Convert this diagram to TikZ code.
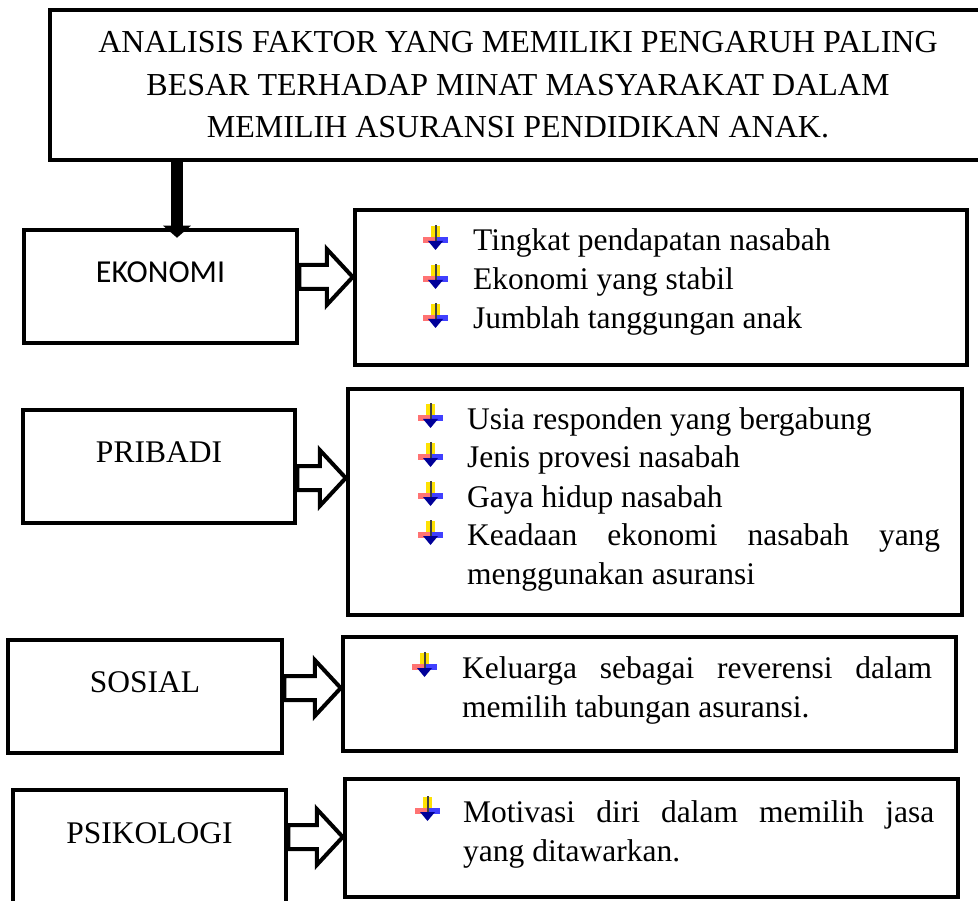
\documentclass[tikz,border=0pt]{standalone}
\usepackage{fontspec}
\setmainfont{Liberation Serif}
\newfontfamily\calibri{Carlito}
\usetikzlibrary{arrows.meta,calc}

\tikzset{
  kotak/.style={draw, line width=4.5pt, inner sep=0pt, minimum width=273pt,
    minimum height=113pt, font=\fontsize{31.5}{38}\selectfont},
  daftar/.style={draw, line width=4.5pt, inner sep=0pt},
  isi/.style={anchor=base west, inner sep=0pt, align=justify,
    font=\fontsize{31.5}{39}\selectfont},
  blok/.style={draw=black, fill=white, line width=4pt, line join=miter,
    to path={let \p1=(\tikztostart), \p2=(\tikztotarget) in
      (\x1,\y2+12pt) -- (\x2-26pt,\y2+12pt) -- (\x2-26pt,\y2+28pt) -- (\x2,\y2)
      -- (\x2-26pt,\y2-28pt) -- (\x2-26pt,\y2-12pt) -- (\x1,\y2-12pt) -- cycle}},
  butir/.pic={
    \fill[yellow!85!orange] (8,-25) rectangle (17,-10);
    \fill[red!55] (0,-14) rectangle (12,-8);
    \fill[blue!75] (12,-14) rectangle (25,-8);
    \fill[black!75] (11.5,-26) rectangle (13.5,-8);
    \fill[blue!60!black] (5,-10) -- (20,-10) -- (12.5,-1) -- cycle;
  }
}
\newcommand{\naik}[1]{\raisebox{14.5pt}[\height][\depth]{#1}}

\begin{document}
\begin{tikzpicture}[x=1pt,y=-1pt]
    \useasboundingbox (0,0) rectangle (978,901);

    % judul
    \node[draw, line width=4.5pt, minimum width=936pt, minimum height=150pt, align=center,
      font=\fontsize{32}{42.5}\selectfont] (judul) at (518,85)
      {ANALISIS FAKTOR YANG MEMILIKI PENGARUH PALING\\
       BESAR TERHADAP MINAT MASYARAKAT DALAM\\
       MEMILIH ASURANSI PENDIDIKAN ANAK.};

    % faktor
    \node[kotak] (eko) at (160.5,286.5) {\naik{\calibri\fontsize{32}{38}\selectfont EKONOMI}};
    \node[kotak, minimum width=272pt] (pri) at (159,466.5) {\naik{PRIBADI}};
    \node[kotak, minimum width=274pt] (sos) at (145,696.5) {\naik{SOSIAL}};
    \node[kotak, minimum height=116pt] (psi) at (149.5,848) {\naik{PSIKOLOGI}};

    % daftar
    \node[daftar, minimum width=612pt, minimum height=155pt] (ekodaftar) at (661,287.5) {};
    \node[daftar, minimum width=614pt, minimum height=226pt] (pridaftar) at (655,502) {};
    \node[daftar, minimum width=613pt, minimum height=114pt] (sosdaftar) at (649.5,694) {};
    \node[daftar, minimum width=613pt, minimum height=118pt] (psidaftar) at (651.5,838) {};

    % panah turun
    \coordinate (ekoatas) at ([xshift=16.5pt]eko.north);
    \draw[line width=12pt, -{Triangle[width=27pt,length=12pt]}]
      ([yshift=2pt]judul.south -| ekoatas) -- ([yshift=-10pt]ekoatas);

    % panah blok
    \coordinate (ekoujung) at (ekodaftar.west |- 0,277);
    \coordinate (priujung) at (pridaftar.west |- 0,478);
    \coordinate (sosujung) at (sosdaftar.west |- 0,688);
    \coordinate (psiujung) at (psidaftar.west |- 0,837);
    \draw[blok] (eko.east |- ekoujung) to (ekoujung);
    \draw[blok] (pri.east |- priujung) to (priujung);
    \draw[blok] (sos.east |- sosujung) to (sosujung);
    \draw[blok] (psi.east |- psiujung) to (psiujung);

    % isi
    \node[isi, text width=467pt] (ekoisi) at (473,251)
      {Tingkat pendapatan nasabah\par Ekonomi yang stabil\par Jumblah tanggungan anak};
    \node[isi, text width=473pt] (priisi) at (467,429)
      {Usia responden yang bergabung\par Jenis provesi nasabah\par Gaya hidup nasabah\par
       Keadaan ekonomi nasabah yang menggunakan asuransi};
    \node[isi, text width=470pt] (sosisi) at (462,678)
      {Keluarga sebagai reverensi dalam memilih tabungan asuransi.};
    \node[isi, text width=471pt] (psiisi) at (463,822)
      {Motivasi diri dalam memilih jasa yang ditawarkan.};

    \foreach \y in {251,290,329} \pic at (423,\y) {butir};
    \foreach \y in {429,468,507,546} \pic at (418,\y) {butir};
    \pic at (412,678) {butir};
    \pic at (415,822) {butir};
\end{tikzpicture}
\end{document}
